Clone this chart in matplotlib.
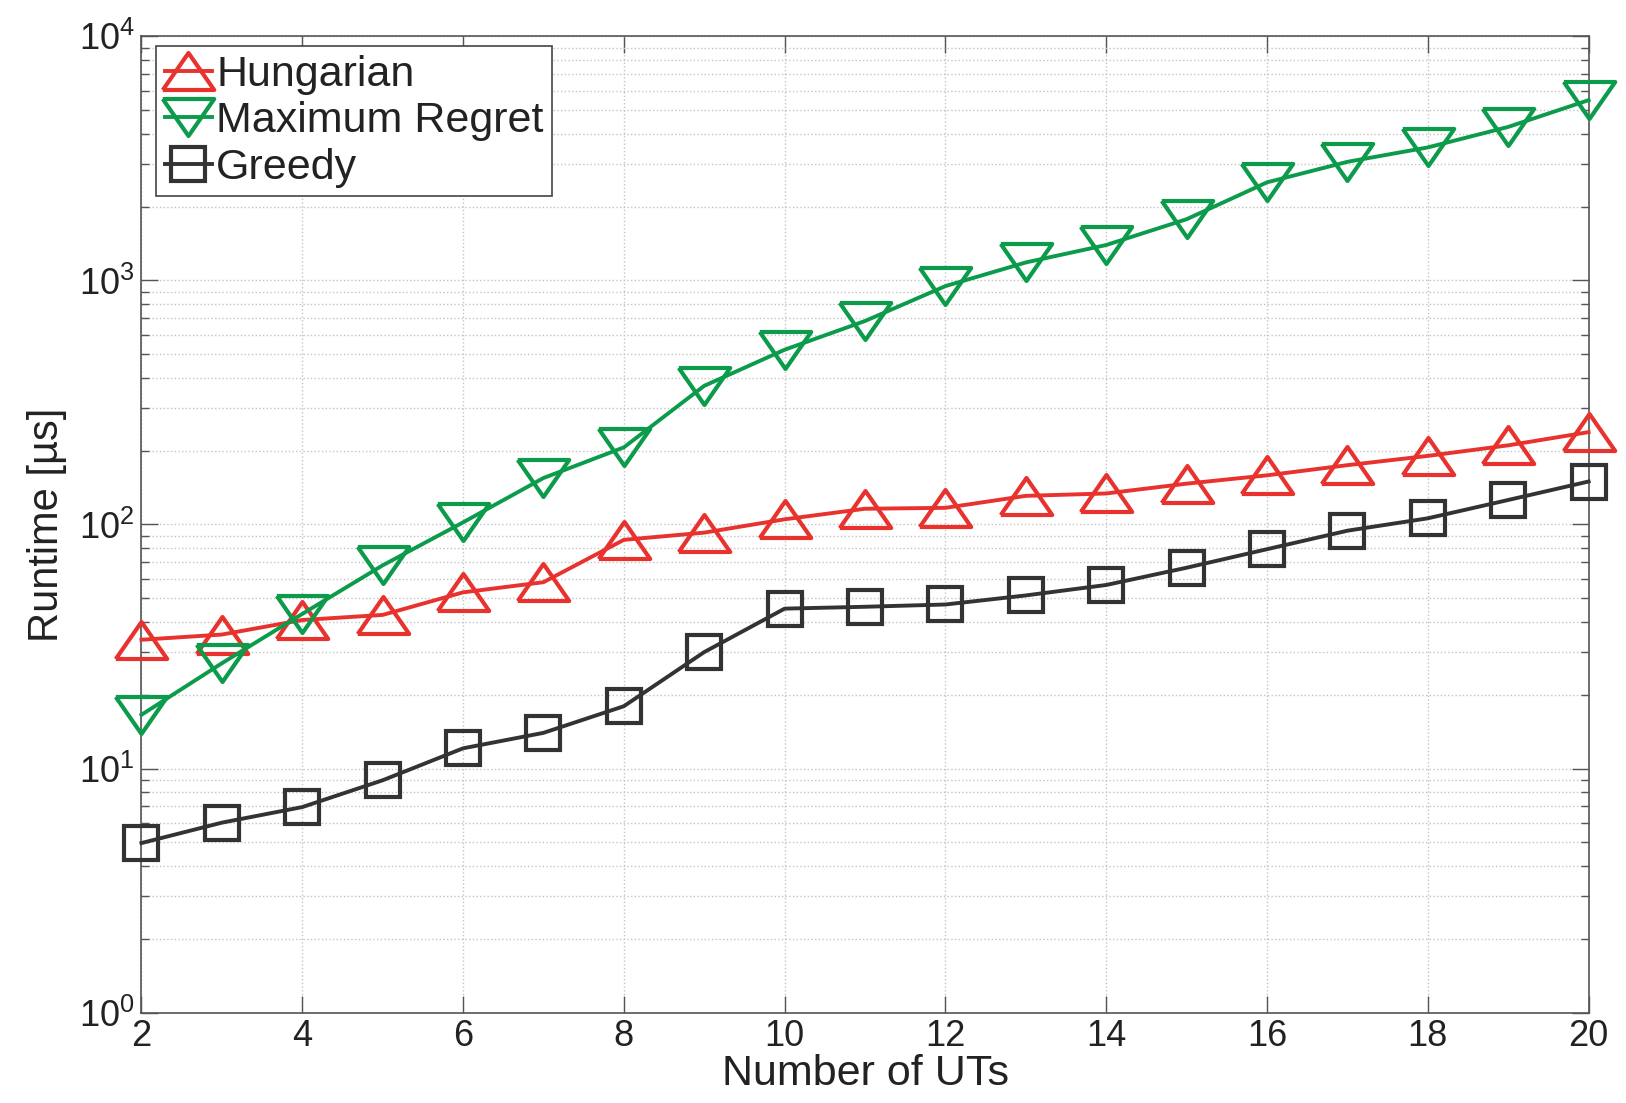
import numpy as np
import matplotlib
matplotlib.use('Agg')
import matplotlib.pyplot as plt
from matplotlib.ticker import LogLocator, NullFormatter

plt.rcParams['font.family'] = ['Liberation Sans', 'DejaVu Sans']
plt.rcParams['mathtext.fontset'] = 'custom'
plt.rcParams['mathtext.rm'] = 'Liberation Sans'
plt.rcParams['mathtext.it'] = 'Liberation Sans'

# data
num_uts = [2, 3, 4, 5, 6, 7, 8, 9, 10, 11, 12, 13, 14, 15, 16, 17, 18, 19, 20]
hungarian = [33.7, 35.4, 40.6, 42.6, 52.7, 58, 86.5, 92.6, 105, 116, 117, 131,
             134, 147, 159, 175, 191, 211, 239]
max_regret = [16.6, 27, 43, 68, 102, 155, 207, 370, 520, 682, 948, 1185,
              1397, 1782, 2523, 3062, 3508, 4257, 5480]
greedy = [4.95, 6.0, 6.95, 8.95, 12.1, 14.0, 18, 30, 45.2, 46, 47, 51.2,
          56.5, 66.5, 79.2, 94.3, 106, 126, 150]
xticks = [2, 4, 6, 8, 10, 12, 14, 16, 18, 20]

# wide MATLAB-style triangles
tri_up = [(-1, -0.72), (1, -0.72), (0, 0.72), (-1, -0.72)]
tri_down = [(-1, 0.72), (1, 0.72), (0, -0.72), (-1, 0.72)]

fig = plt.figure(figsize=(16.26, 11.03), dpi=100)
ax = fig.add_axes([0.087, 0.082, 0.890, 0.885])

ax.plot(num_uts, hungarian, color='#e8322e', lw=2.8, marker=tri_up, ms=37,
        mfc='none', mew=3.0, label='Hungarian', clip_on=False, zorder=3)
ax.plot(num_uts, max_regret, color='#0b9b4a', lw=2.8, marker=tri_down, ms=37,
        mfc='none', mew=3.0, label='Maximum Regret', clip_on=False, zorder=3)
ax.plot(num_uts, greedy, color='#333333', lw=2.8, marker='s', ms=24,
        mfc='none', mew=3.0, label='Greedy', clip_on=False, zorder=3)

ax.set_yscale('log')
ax.set_xlim(2, 20)
ax.set_ylim(1, 1e4)
ax.set_xticks(xticks)
ax.yaxis.set_major_locator(LogLocator(base=10, numticks=10))
ax.yaxis.set_minor_locator(LogLocator(base=10, subs=np.arange(2, 10), numticks=20))
ax.yaxis.set_minor_formatter(NullFormatter())

ax.grid(True, which='major', axis='both', ls=':', color='#c4c4c4', lw=1.0)
ax.grid(True, which='minor', axis='y', ls=':', color='#c4c4c4', lw=1.0)

ax.tick_params(which='both', direction='in', top=True, right=True,
               colors='#555555', labelcolor='#222222')
ax.tick_params(which='major', length=12, width=1, labelsize=26, pad=5)
ax.tick_params(which='minor', length=6, width=1)
for s in ax.spines.values():
    s.set_color('#555555')
    s.set_linewidth(1.2)

ax.set_xlabel('Number of UTs', fontsize=31, color='#222222', labelpad=0)
ax.set_ylabel('Runtime [µs]', fontsize=30, color='#222222', labelpad=8)

leg = ax.legend(loc='upper left', bbox_to_anchor=(0.01, 0.99), fontsize=31,
                handlelength=1.1, handletextpad=0.1, labelspacing=0.15,
                borderpad=0.2, borderaxespad=0.0, fancybox=False, framealpha=1)
leg.get_frame().set_edgecolor('#444444')
leg.get_frame().set_linewidth(1.2)
for t in leg.get_texts():
    t.set_color('#222222')

plt.savefig('out.png', dpi=100)
